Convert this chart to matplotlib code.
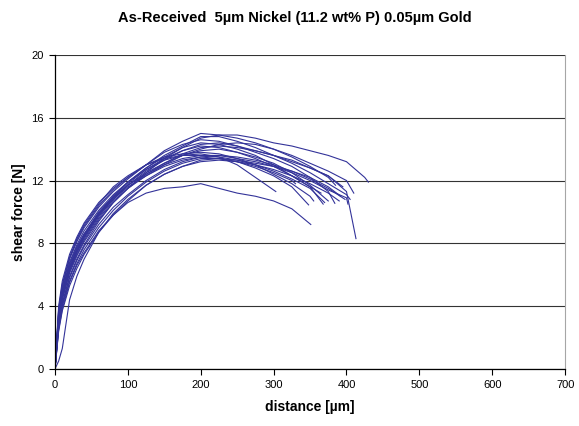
import matplotlib
matplotlib.use("Agg")
import matplotlib.pyplot as plt

# sampled distance grid [um]; every test curve is read on this grid up to its own end point
distance_grid = [0, 5, 10, 20, 30, 40, 60, 80, 100, 125, 150, 175, 200,
                 225, 250, 275, 300, 325, 350, 375, 400, 425]

# shear force [N] for each test
force_01 = [0, 2.8, 4.2, 5.9, 7.0, 7.9, 9.4, 10.6, 11.5, 12.5, 13.4, 14.1, 14.7, 14.9, 14.9, 14.7, 14.4, 14.2, 13.9, 13.6, 13.2, 12.2]
force_02 = [0, 3.0, 4.6, 6.3, 7.4, 8.3, 9.7, 10.8, 11.7, 12.6, 13.3, 13.9, 14.3, 14.4, 14.2, 13.9, 13.6, 13.3, 12.8, 12.3, 11.3]
force_03 = [0, 2.5, 3.8, 5.5, 6.6, 7.4, 8.8, 9.8, 10.6, 11.2, 11.5, 11.6, 11.8, 11.5, 11.2, 11.0, 10.7, 10.2]
force_04 = [0, 0.5, 1.3, 4.4, 5.9, 7.0, 8.7, 9.9, 10.8, 11.7, 12.4, 12.9, 13.3, 13.4, 13.3, 13.0, 12.6, 12.1, 11.5]
force_05 = [0, 3.5, 5.0, 6.7, 7.8, 8.6, 10.0, 11.0, 11.9, 12.7, 13.3, 13.6, 13.7, 13.5, 13.0, 12.2]
force_06 = [0, 3.2, 4.8, 6.5, 7.6, 8.5, 9.9, 11.0, 11.9, 12.8, 13.6, 14.2, 14.8, 14.8, 14.5, 14.1, 13.6, 13.1, 12.5, 11.8, 11.1]
force_07 = [0, 3.6, 5.2, 7.0, 8.1, 9.0, 10.3, 11.3, 12.1, 13.0, 13.8, 14.3, 14.6, 14.5, 14.2, 13.8, 13.4, 12.9, 12.2, 11.3]
force_08 = [0, 3.3, 4.9, 6.6, 7.7, 8.6, 9.9, 10.9, 11.7, 12.5, 13.1, 13.6, 13.9, 14.0, 13.8, 13.5, 13.1, 12.5, 11.7]
force_09 = [0, 2.9, 4.4, 6.1, 7.2, 8.1, 9.5, 10.6, 11.5, 12.4, 13.1, 13.7, 14.1, 14.2, 14.1, 13.9, 13.6, 13.2, 12.8, 12.3]
force_10 = [0, 4.0, 5.6, 7.3, 8.4, 9.3, 10.6, 11.5, 12.2, 13.0, 13.5, 13.7, 13.8, 13.7, 13.4, 13.0, 12.4, 11.8, 11.0]
force_11 = [0, 3.1, 4.6, 6.3, 7.5, 8.4, 9.8, 10.8, 11.6, 12.3, 12.9, 13.3, 13.5, 13.4, 13.2, 12.8, 12.3, 11.6]
force_12 = [0, 2.7, 4.1, 5.8, 6.9, 7.8, 9.2, 10.3, 11.1, 12.0, 12.7, 13.2, 13.5, 13.6, 13.5, 13.3, 13.0, 12.6, 12.1, 11.5]
force_13 = [0, 3.4, 5.0, 6.8, 7.9, 8.8, 10.1, 11.1, 11.9, 12.8, 13.5, 14.1, 14.4, 14.3, 14.0, 13.6, 13.0, 12.3, 11.6]
force_14 = [0, 2.6, 4.0, 5.6, 6.7, 7.6, 9.0, 10.1, 11.0, 11.9, 12.6, 13.1, 13.4, 13.4, 13.2, 12.9, 12.5, 12.0]
force_15 = [0, 3.8, 5.4, 7.1, 8.2, 9.1, 10.4, 11.4, 12.2, 13.0, 13.4, 13.6, 13.6, 13.5, 13.3, 13.1, 12.9, 12.6, 12.2, 11.6]
force_16 = [0, 3.0, 4.5, 6.2, 7.3, 8.2, 9.6, 10.7, 11.5, 12.3, 13.0, 13.6, 14.0, 14.3, 14.4, 14.3, 14.0, 13.6, 13.1, 12.6, 12.0]
force_17 = [0, 3.3, 4.8, 6.4, 7.5, 8.4, 9.8, 10.9, 11.8, 12.7, 13.4, 13.9, 14.2, 14.1, 13.8, 13.4, 12.9, 12.3, 11.6]
force_18 = [0, 2.4, 3.7, 5.3, 6.4, 7.3, 8.7, 9.8, 10.7, 11.7, 12.4, 12.9, 13.2, 13.3, 13.2, 13.0, 12.7, 12.3, 11.8, 11.2]
force_19 = [0, 3.7, 5.3, 7.1, 8.3, 9.2, 10.5, 11.6, 12.3, 13.0, 13.9, 14.5, 15.0, 14.9, 14.7, 14.4, 14.0, 13.5, 12.9, 12.2]
force_20 = [0, 3.1, 4.7, 6.4, 7.6, 8.5, 9.9, 10.9, 11.7, 12.4, 13.0, 13.4, 13.6, 13.6, 13.4, 13.2, 12.9, 12.5, 12.0, 11.4, 10.9]

forces = [force_01, force_02, force_03, force_04, force_05, force_06, force_07,
          force_08, force_09, force_10, force_11, force_12, force_13, force_14,
          force_15, force_16, force_17, force_18, force_19, force_20]

# last point (failure) of each curve
end_distance = [430, 413, 351, 370, 303, 405, 384, 375, 395, 355,
                348, 398, 365, 330, 392, 410, 368, 390, 385, 402]
end_force = [11.9, 8.3, 9.2, 10.6, 11.3, 10.8, 10.55, 10.7, 11.6, 10.7,
             10.45, 10.8, 11.2, 11.8, 11.0, 11.2, 10.5, 10.7, 11.7, 10.5]

fig = plt.figure(figsize=(5.79, 4.26), dpi=100)
ax = fig.add_axes([0.095, 0.134, 0.881, 0.737])

for f, ex, ey in zip(forces, end_distance, end_force):
    xs = distance_grid[:len(f)] + [ex]
    ys = f + [ey]
    ax.plot(xs, ys, color="#333399", linewidth=0.8, solid_joinstyle="round")

ax.set_xlim(0, 700)
ax.set_ylim(0, 20)
ax.set_xticks(range(0, 701, 100))
ax.set_yticks(range(0, 21, 4))
ax.yaxis.grid(True, color="0.2", linewidth=0.8)
ax.set_axisbelow(True)

ax.spines["top"].set_visible(False)
ax.spines["right"].set_color("0.65")
ax.spines["left"].set_linewidth(0.9)
ax.spines["bottom"].set_linewidth(0.9)
ax.tick_params(direction="out", length=4, width=0.8, labelsize=8, pad=4)

font = "Liberation Sans"
for lab in ax.get_xticklabels() + ax.get_yticklabels():
    lab.set_fontfamily(font)

ax.set_xlabel("distance [µm]", fontsize=10, fontweight="bold", family=font, labelpad=7)
ax.set_ylabel("shear force [N]", fontsize=10, fontweight="bold", family=font, labelpad=4)
fig.suptitle("As-Received  5µm Nickel (11.2 wt% P) 0.05µm Gold", fontsize=10.5,
             fontweight="bold", family=font, x=0.51, y=0.975)

fig.savefig("out.png", dpi=100)
